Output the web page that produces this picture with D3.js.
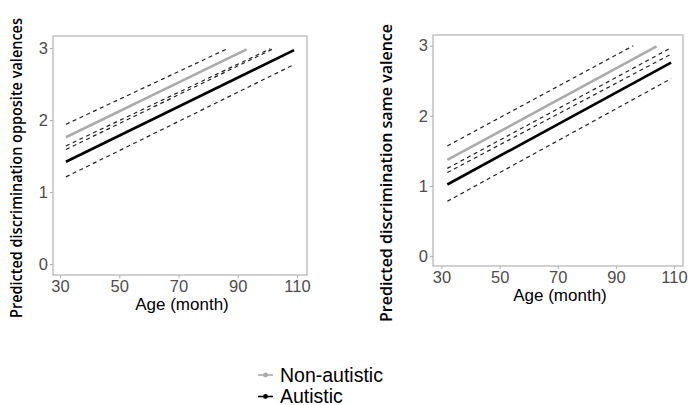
<!DOCTYPE html>
<html>
<head>
<meta charset="utf-8">
<script src="https://cdn.jsdelivr.net/npm/d3@7"></script>
<style>
  body { margin: 0; background: #fff; }
  svg { display: block; }
</style>
</head>
<body>
<svg id="chart" width="688" height="405"></svg>
<script>
// x ticks / y ticks shared by both panels
const xTicks = [30, 50, 70, 90, 110];
const yTicks = [0, 1, 2, 3];

// left panel: opposite valences, [age, predicted]
const leftNonAutisticFit   = [[32, 1.76], [93, 2.98]];
const leftNonAutisticUpper = [[32, 1.94], [87, 3.00]];
const leftNonAutisticLower = [[32, 1.64], [101, 2.99]];
const leftAutisticFit      = [[32, 1.42], [109, 2.97]];
const leftAutisticUpper    = [[32, 1.59], [102, 2.99]];
const leftAutisticLower    = [[32, 1.21], [109, 2.77]];

// right panel: same valence
const rightNonAutisticFit   = [[32, 1.37], [104, 2.99]];
const rightNonAutisticUpper = [[32, 1.57], [96, 3.00]];
const rightNonAutisticLower = [[32, 1.25], [109, 2.97]];
const rightAutisticFit      = [[32, 1.02], [109, 2.76]];
const rightAutisticUpper    = [[32, 1.19], [109, 2.88]];
const rightAutisticLower    = [[32, 0.78], [109, 2.53]];

const groupNames = ["Non-autistic", "Autistic"];
const groupColors = ["#ababab", "#000000"];

const svg = d3.select("#chart");

function drawPanel(p) {
  const x = d3.scaleLinear().domain([30, 110]).range(p.xRange);
  const y = d3.scaleLinear().domain([0, 3]).range(p.yRange);
  const g = svg.append("g");

  // panel border
  g.append("rect")
    .attr("x", p.box[0]).attr("y", p.box[1])
    .attr("width", p.box[2] - p.box[0]).attr("height", p.box[3] - p.box[1])
    .attr("fill", "none").attr("stroke", "#b3b3b3").attr("stroke-width", 1.2);

  // axes
  const xAxis = g.append("g")
    .attr("transform", `translate(0,${p.box[3]})`)
    .call(d3.axisBottom(x).tickValues(xTicks).tickFormat(d3.format("d")).tickSize(3).tickPadding(2));
  const yAxis = g.append("g")
    .attr("transform", `translate(${p.box[0]},0)`)
    .call(d3.axisLeft(y).tickValues(yTicks).tickFormat(d3.format("d")).tickSize(3).tickPadding(2));
  [xAxis, yAxis].forEach(a => {
    a.select(".domain").remove();
    a.selectAll(".tick line").attr("stroke", "#b3b3b3").attr("stroke-width", 1.1);
    a.selectAll(".tick text")
      .attr("fill", "#4d4d4d")
      .style("font-family", "'Liberation Sans', Arial, sans-serif")
      .style("font-size", "16.5px");
  });

  const line = d3.line().x(d => x(d[0])).y(d => y(d[1]));

  // confidence bounds
  p.bounds.forEach(b => {
    g.append("path")
      .attr("d", line(b))
      .attr("fill", "none")
      .attr("stroke", "#222")
      .attr("stroke-width", 1.2)
      .attr("stroke-dasharray", "4,3.5");
  });

  // fitted lines
  p.fits.forEach((f, i) => {
    g.append("path")
      .attr("d", line(f))
      .attr("fill", "none")
      .attr("stroke", groupColors[i])
      .attr("stroke-width", 2.6);
  });

  // x title
  g.append("text")
    .attr("x", (p.box[0] + p.box[2]) / 2 + 2)
    .attr("y", p.xTitleY)
    .attr("text-anchor", "middle")
    .style("font-family", "'Liberation Sans', Arial, sans-serif")
    .style("font-size", "17px")
    .attr("fill", "#000")
    .text("Age (month)");

  // y title
  g.append("text")
    .attr("transform", `translate(${p.yTitle[0]},${p.yTitle[1]}) rotate(-90)`)
    .attr("text-anchor", "middle")
    .attr("textLength", p.yTitle[2])
    .attr("lengthAdjust", "spacingAndGlyphs")
    .style("font-family", "'Open Sans', 'Noto Sans', sans-serif")
    .style("font-weight", 600)
    .style("font-size", p.yTitle[3] + "px")
    .attr("fill", "#000")
    .text(p.title);
}

drawPanel({
  box: [53, 36, 307, 275],
  xRange: [60, 297],
  yRange: [264, 48],
  xTitleY: 310,
  yTitle: [22, 168, 300, 16],
  title: "Predicted discrimination opposite valences",
  fits: [leftNonAutisticFit, leftAutisticFit],
  bounds: [leftNonAutisticUpper, leftNonAutisticLower, leftAutisticUpper, leftAutisticLower]
});

drawPanel({
  box: [433, 35, 683, 266],
  xRange: [441.5, 674],
  yRange: [256, 45.7],
  xTitleY: 301,
  yTitle: [392, 173, 298, 17],
  title: "Predicted discrimination same valence",
  fits: [rightNonAutisticFit, rightAutisticFit],
  bounds: [rightNonAutisticUpper, rightNonAutisticLower, rightAutisticUpper, rightAutisticLower]
});

// legend
const legend = svg.append("g").attr("transform", "translate(258,375)");
const item = legend.selectAll("g")
  .data(groupNames)
  .join("g")
  .attr("transform", (d, i) => `translate(0,${i * 21.5})`);
item.append("line")
  .attr("x1", 0).attr("x2", 15)
  .attr("stroke", (d, i) => groupColors[i])
  .attr("stroke-width", 1.6);
item.append("circle")
  .attr("cx", 7.5).attr("r", 2.4)
  .attr("fill", (d, i) => groupColors[i]);
item.append("text")
  .attr("x", 22).attr("y", 6.5)
  .style("font-family", "'Liberation Sans', Arial, sans-serif")
  .style("font-size", "19.5px")
  .attr("fill", "#000")
  .text(d => d);
</script>
</body>
</html>
